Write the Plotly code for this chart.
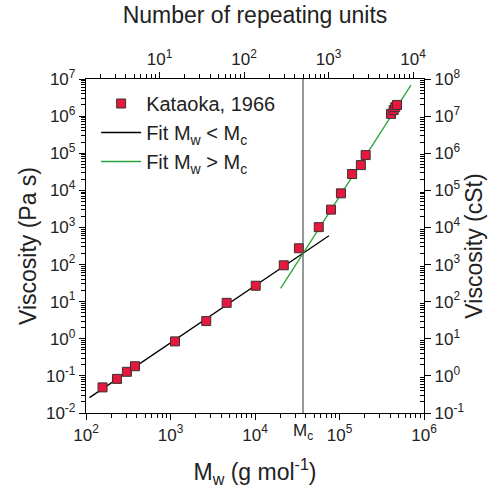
import numpy as np
import plotly.graph_objects as go

# ---- data ----
mw = [157, 233, 305, 380, 1130, 2650, 4620, 10200, 21900, 33100, 56800, 79400,
      104000, 141000, 179000, 204000, 407000, 437000, 457000, 479000]
eta = [0.049, 0.083, 0.129, 0.182, 0.85, 3.0, 9.3, 26.9, 95.5, 275, 1020, 3020,
       8300, 27500, 47900, 89100, 1.15e6, 1.45e6, 1.74e6, 2.0e6]
Mc = 37000
M0 = 74.15           # repeating-unit mass
cst_factor = 10.0    # right axis scale factor

fit_low = dict(a=-4.73, b=1.54, xmin=110, xmax=75000)
fit_high = dict(a=-13.92, b=3.55, xmin=20100, xmax=701000)

x_range = [2, 6]
y_range = [-2, 7]

def fit_line(f):
    xs = np.array([f["xmin"], f["xmax"]], dtype=float)
    ys = 10 ** (f["a"] + f["b"] * np.log10(xs))
    return xs, ys

def minors(lo, hi):
    vals = []
    for d in range(int(np.floor(lo)) - 1, int(np.ceil(hi)) + 1):
        for m in range(2, 10):
            v = m * 10.0 ** d
            if 10 ** lo <= v <= 10 ** hi:
                vals.append(v)
    return vals

def majors(lo, hi):
    return [10.0 ** k for k in range(int(np.ceil(lo)), int(np.floor(hi)) + 1)]

def powtext(vals):
    return ["10<sup>%d</sup>" % round(np.log10(v)) for v in vals]

FONT = "Liberation Sans, Arial, sans-serif"
red = "#E8183C"
green = "#2AA33A"

fig = go.Figure()
x1, y1 = fit_line(fit_low)
x2, y2 = fit_line(fit_high)

fig.add_trace(go.Scatter(x=x1, y=y1, mode="lines", name="Fit M<sub>w</sub> &lt; M<sub>c</sub>",
                         legendrank=2, line=dict(color="black", width=1.3)))
fig.add_trace(go.Scatter(x=x2, y=y2, mode="lines", name="Fit M<sub>w</sub> &gt; M<sub>c</sub>",
                         legendrank=3, line=dict(color=green, width=1.3)))
fig.add_trace(go.Scatter(x=mw, y=eta, mode="markers", name="Kataoka, 1966", legendrank=1,
                         marker=dict(symbol="square", size=9, color=red,
                                     line=dict(color="#333333", width=1))))

# invisible trace on secondary axes
top_range = [np.log10(10 ** x_range[0] / M0), np.log10(10 ** x_range[1] / M0)]
right_range = [y_range[0] + np.log10(cst_factor), y_range[1] + np.log10(cst_factor)]
fig.add_trace(go.Scatter(x=[10 ** top_range[0]], y=[10 ** right_range[0]], xaxis="x2", yaxis="y2",
                         mode="markers", marker=dict(opacity=0), showlegend=False, hoverinfo="skip"))

fig.add_shape(type="line", x0=Mc, x1=Mc, y0=0, y1=1, xref="x", yref="paper",
              line=dict(color="#555555", width=1.2))

tickfont = dict(family=FONT, size=17, color="#222")
titlefont = dict(family=FONT, size=23, color="#222")
common = dict(type="log", showgrid=False, zeroline=False, showline=True, linecolor="black",
              linewidth=1.3, ticks="outside", ticklen=6, tickwidth=1.2, tickcolor="black",
              tickfont=tickfont, tickmode="array")

bx = majors(*x_range)
ly = majors(*y_range)
tx = majors(*top_range)
ry = majors(*right_range)

fig.update_layout(
    width=503, height=493,
    margin=dict(l=86, r=79, t=79, b=76),
    plot_bgcolor="white", paper_bgcolor="white",
    font=dict(family=FONT, color="#222"),
    showlegend=True,
    legend=dict(x=0.03, y=0.985, xanchor="left", yanchor="top", bgcolor="rgba(0,0,0,0)",
                font=dict(family=FONT, size=20, color="#222"), itemwidth=40,
                tracegroupgap=0, traceorder="normal"),
    xaxis=dict(**common, range=x_range, tickvals=bx, ticktext=powtext(bx),
               minor=dict(tickvals=minors(*x_range), ticks="outside", ticklen=3.5, tickcolor="black"),
               title=dict(text="M<sub>w</sub> (g mol<sup>-1</sup>)", font=titlefont, standoff=20)),
    yaxis=dict(**common, range=y_range, tickvals=ly, ticktext=powtext(ly),
               minor=dict(tickvals=minors(*y_range), ticks="outside", ticklen=3.5, tickcolor="black"),
               title=dict(text="Viscosity (Pa s)", font=titlefont, standoff=2)),
    xaxis2=dict(**common, range=top_range, overlaying="x", side="top", anchor="y",
                tickvals=tx, ticktext=powtext(tx),
                minor=dict(tickvals=minors(*top_range), ticks="outside", ticklen=3.5, tickcolor="black"),
                title=dict(text="Number of repeating units", font=titlefont, standoff=16)),
    yaxis2=dict(**common, range=right_range, overlaying="y", side="right", anchor="x",
                tickvals=ry, ticktext=powtext(ry),
                minor=dict(tickvals=minors(*right_range), ticks="inside", ticklen=3.5, tickcolor="black"),
                title=dict(text="Viscosity (cSt)", font=titlefont, standoff=2)),
)

fig.add_annotation(x=np.log10(Mc), y=0, xref="x", yref="paper", yanchor="top",
                   yshift=-6, text="M<sub>c</sub>", showarrow=False,
                   font=dict(family=FONT, size=17, color="#222"))

fig.write_html("out.html")
